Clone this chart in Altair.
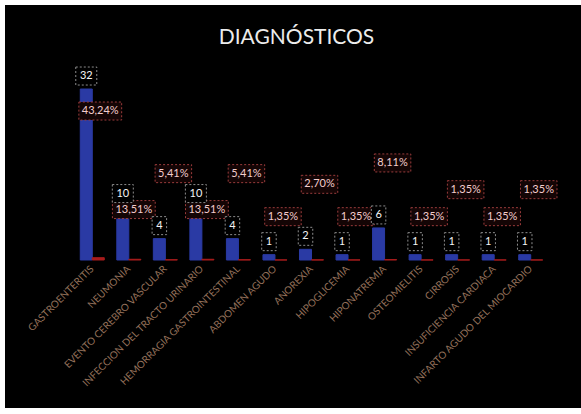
import altair as alt
import pandas as pd

categories = [
    "GASTROENTERITIS", "NEUMONIA", "EVENTO CEREBRO VASCULAR",
    "INFECCION DEL TRACTO URINARIO", "HEMORRAGIA GASTROINTESTINAL",
    "ABDOMEN AGUDO", "ANOREXIA", "HIPOGLICEMIA", "HIPONATREMIA",
    "OSTEOMIELITIS", "CIRROSIS", "INSUFICIENCIA CARDIACA",
    "INFARTO AGUDO DEL MIOCARDIO",
]
counts = [32, 10, 4, 10, 4, 1, 2, 1, 6, 1, 1, 1, 1]
percents = [43.24, 13.51, 5.41, 13.51, 5.41, 1.35, 2.70, 1.35, 8.11, 1.35, 1.35, 1.35, 1.35]
series_names = ["Cantidad", "Porcentaje"]
series_colors = ["#2a3aa4", "#a81c1c"]

wide = pd.DataFrame({
    "category": categories,
    "count": counts,
    "pct": percents,
    "idx": list(range(len(categories))),
})
long = pd.concat([
    pd.DataFrame({"category": categories, "series": series_names[0], "value": counts}),
    pd.DataFrame({"category": categories, "series": series_names[1],
                  "value": [p / 100 for p in percents]}),
], ignore_index=True)

W, H = 475, 187
PAD = {"left": 74, "top": 73, "right": 581 - 74 - W, "bottom": 414 - 73 - H}

x_enc = alt.X(
    "category:N", sort=categories, title=None,
    scale=alt.Scale(paddingInner=0.343, paddingOuter=0.1715),
    axis=alt.Axis(labelAngle=-45, labelAlign="right", labelBaseline="middle",
                  labelColor="#94705a", labelFont="Lato", labelFontSize=10,
                  labelPadding=7, ticks=False, domain=False, grid=False,
                  labelLimit=300, zindex=1),
)
y_scale = alt.Scale(domain=[0, 35], nice=False, zero=True)
y_count = alt.Y("count:Q", scale=y_scale, axis=None)

bg = alt.Chart(pd.DataFrame({"k": [0]})).mark_rect(color="black", clip=False).encode(
    x=alt.value(5 - PAD["left"]), x2=alt.value(W + PAD["right"]),
    y=alt.value(5 - PAD["top"]), y2=alt.value(H + PAD["bottom"] - 6),
)

bars = alt.Chart(long).mark_bar(strokeWidth=1).encode(
    x=x_enc,
    xOffset=alt.XOffset("series:N", sort=series_names,
                        scale=alt.Scale(paddingInner=0, paddingOuter=0)),
    y=alt.Y("value:Q", scale=y_scale, axis=None),
    color=alt.Color("series:N", scale=alt.Scale(domain=series_names, range=series_colors), legend=None),
    stroke=alt.Stroke("series:N", scale=alt.Scale(domain=series_names, range=series_colors), legend=None),
)

BOX = "'M' + (-datum.hw) + ',-1L' + datum.hw + ',-1L' + datum.hw + ',1L' + (-datum.hw) + ',1Z'"

count_base = alt.Chart(wide).transform_calculate(
    label="toString(datum.count)"
).transform_calculate(
    hw="(6.5 * length(datum.label) + 8) / 18"
).transform_calculate(box=BOX)

count_box = count_base.mark_point(
    xOffset=-6, yOffset=-13, fill="black", stroke="#8c8c8c", strokeDash=[2, 2],
    strokeWidth=1, opacity=1, size=324,
).encode(x=x_enc, y=y_count, shape=alt.Shape("box:N", scale=None))
count_text = count_base.mark_text(
    xOffset=-6, yOffset=-13, color="#f4f4f4", font="Lato", fontSize=11,
    align="center", baseline="middle",
).encode(x=x_enc, y=y_count, text="label:N")

pct_base = alt.Chart(wide).transform_calculate(
    label="replace(format(datum.pct, '.2f'), '.', ',') + '%'",
    grp="datum.count >= 20 ? 'a' : (datum.count >= 10 ? 'b' : (datum.idx % 2 == 1 ? 'c' : 'd'))",
).transform_calculate(
    hw="(6.3 * length(datum.label) + 5) / 18"
).transform_calculate(box=BOX)

pct_layers = []
for grp, dx, dy in [("a", 8, 22), ("b", 5, 3), ("c", 8, -38), ("d", 8, -65)]:
    sub = pct_base.transform_filter(alt.datum.grp == grp)
    pct_layers.append(sub.mark_point(
        xOffset=dx, yOffset=dy, fill="#140505", stroke="#9a3c3c", strokeDash=[2, 2],
        strokeWidth=1, opacity=1, size=324,
    ).encode(x=x_enc, y=y_count, shape=alt.Shape("box:N", scale=None)))
    pct_layers.append(sub.mark_text(
        xOffset=dx, yOffset=dy, color="#f3cccc", font="Lato", fontSize=11,
        align="center", baseline="middle",
    ).encode(x=x_enc, y=y_count, text="label:N"))

chart = alt.layer(bg, bars, *pct_layers, count_box, count_text).properties(
    width=W, height=H,
    title=alt.Title("DIAGNÓSTICOS", font="Lato", fontSize=21, fontWeight="normal",
                    color="#ececec", anchor="middle", dx=-15, offset=-43, zindex=1),
    autosize=alt.AutoSizeParams(type="none"),
    padding=PAD,
).configure(background="white").configure_view(stroke=None)

chart.save("out.html", embed_options={"renderer": "svg", "actions": False})
